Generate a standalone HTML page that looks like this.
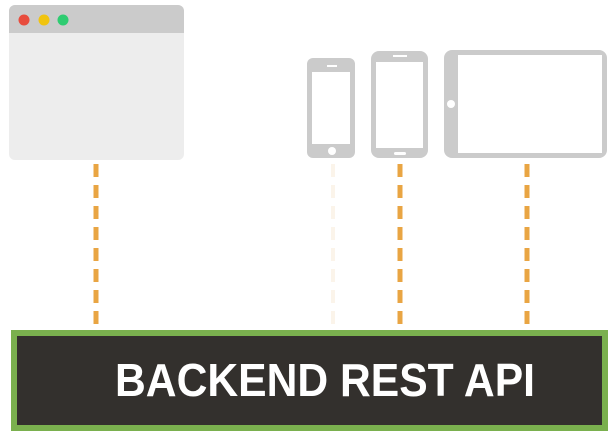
<!DOCTYPE html>
<html><head><style>body{margin:0;background:#fff}</style></head><body>
<svg width="612" height="440" xmlns="http://www.w3.org/2000/svg">
<rect width="612" height="440" fill="#fff"/>
<rect x="9" y="5" width="175" height="155" rx="6" fill="#ededed"/>
<path d="M9 33 V11 a6 6 0 0 1 6 -6 H178 a6 6 0 0 1 6 6 V33 Z" fill="#cbcbcb"/>
<circle cx="24" cy="20" r="5.5" fill="#e84c3d"/>
<circle cx="44" cy="20" r="5.5" fill="#f1c40f"/>
<circle cx="63" cy="20" r="5.5" fill="#2ecc71"/>
<rect x="307" y="58" width="48" height="100" rx="6" fill="#cbcbcb"/>
<rect x="312" y="72" width="38" height="72" fill="#fff"/>
<rect x="327" y="65" width="10" height="2" fill="#fff"/>
<circle cx="332" cy="151" r="4" fill="#fff"/>
<rect x="371" y="51" width="57" height="107" rx="8" fill="#cbcbcb"/>
<rect x="376" y="62" width="47" height="86" fill="#fff"/>
<rect x="393" y="55" width="14" height="2" fill="#fff"/>
<rect x="394" y="152" width="12" height="3" rx="1.5" fill="#fff"/>
<rect x="444" y="50" width="163" height="108" rx="8" fill="#cbcbcb"/>
<rect x="458" y="55" width="144" height="98" fill="#fff"/>
<circle cx="451" cy="104" r="4" fill="#fff"/>
<g stroke="#e9a543" stroke-width="5" stroke-dasharray="13 8">
<line x1="96" y1="164" x2="96" y2="326"/>
<line x1="400" y1="164" x2="400" y2="326"/>
<line x1="527" y1="164" x2="527" y2="326"/>
</g>
<line x1="333" y1="164" x2="333" y2="326" stroke="#fbf4ea" stroke-width="4" stroke-dasharray="13 8"/>
<rect x="14" y="333" width="591" height="95" fill="#33302d" stroke="#7ab04e" stroke-width="6"/>
<text x="115" y="396" textLength="420" lengthAdjust="spacingAndGlyphs" font-family="Liberation Sans, sans-serif" font-weight="bold" font-size="46" fill="#fff">BACKEND REST API</text>
</svg>
</body></html>
